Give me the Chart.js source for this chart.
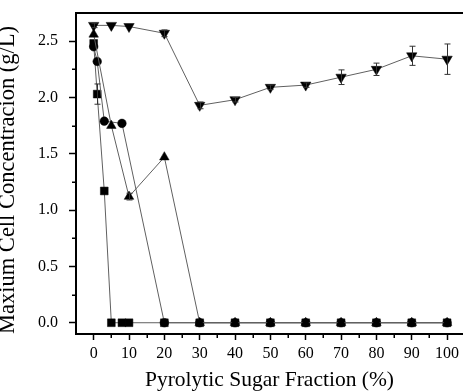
<!DOCTYPE html>
<html><head><meta charset="utf-8">
<script src="https://cdn.jsdelivr.net/npm/chart.js@4/dist/chart.umd.min.js"></script>
<style>html,body{margin:0;padding:0;background:#fff;}#wrap{width:463px;height:391px;position:relative;}</style>
</head><body><div id="wrap"><canvas id="c" width="463" height="391"></canvas></div>
<script>
// ---- data ----
const invTriX = [0, 5, 10, 20, 30, 40, 50, 60, 70, 80, 90, 100];
const invTriY = [2.64, 2.64, 2.63, 2.57, 1.93, 1.98, 2.09, 2.11, 2.18, 2.25, 2.37, 2.34];
const invTriErr = [0.02, 0, 0, 0.03, 0.03, 0.02, 0.02, 0.02, 0.065, 0.055, 0.085, 0.135];

const triX = [0, 5, 10, 20, 30, 40, 50, 60, 70, 80, 90, 100];
const triY = [2.56, 1.75, 1.12, 1.47, 0, 0, 0, 0, 0, 0, 0, 0];
const triErr = [0, 0, 0.03, 0, 0, 0, 0, 0, 0, 0, 0, 0];

const sqX = [0, 1, 3, 5, 8, 10, 20, 30, 40, 50, 60, 70, 80, 90, 100];
const sqY = [2.48, 2.03, 1.17, 0, 0, 0, 0, 0, 0, 0, 0, 0, 0, 0, 0];
const sqErr = [0, 0.09, 0, 0, 0, 0, 0, 0, 0, 0, 0, 0, 0, 0, 0];

const cirX = [0, 1, 3, 8, 20, 30, 40, 50, 60, 70, 80, 90, 100];
const cirY = [2.45, 2.32, 1.79, 1.77, 0, 0, 0, 0, 0, 0, 0, 0, 0];
const cirErr = [0, 0, 0, 0, 0, 0, 0, 0, 0, 0, 0, 0, 0];

const xTicks = [0, 10, 20, 30, 40, 50, 60, 70, 80, 90, 100];
const xMinorTicks = [5, 15, 25, 35, 45, 55, 65, 75, 85, 95];
const yTicks = [0, 0.5, 1.0, 1.5, 2.0, 2.5];
const yMinorTicks = [0.25, 0.75, 1.25, 1.75, 2.25];

const xTitle = 'Pyrolytic Sugar Fraction (%)';
const yTitle = 'Maxium Cell Concentracion (g/L)';

// ---- build ----
const FONT = '"Liberation Serif", "Times New Roman", serif';
const pts = (xs, ys) => xs.map((x, i) => ({x: x, y: ys[i]}));

function ds(xs, ys, errs, style, radius, rot) {
  return {
    data: pts(xs, ys),
    errors: errs,
    borderColor: '#606060',
    borderWidth: 1,
    backgroundColor: '#000',
    pointBackgroundColor: '#000',
    pointBorderColor: '#000',
    pointBorderWidth: 0.5,
    pointStyle: style,
    pointRadius: radius,
    pointRotation: rot || 0,
    pointHoverRadius: radius,
    tension: 0,
    fill: false
  };
}

const errorBars = {
  id: 'errorBars',
  afterDatasetsDraw(chart) {
    const ctx = chart.ctx, ys = chart.scales.y;
    ctx.save();
    ctx.strokeStyle = '#333';
    ctx.lineWidth = 1;
    chart.data.datasets.forEach((d, di) => {
      const meta = chart.getDatasetMeta(di);
      d.data.forEach((p, i) => {
        const e = d.errors[i];
        if (!e) return;
        const px = Math.round(meta.data[i].x) + 0.5;
        const y1 = ys.getPixelForValue(p.y + e), y2 = ys.getPixelForValue(p.y - e);
        ctx.beginPath();
        ctx.moveTo(px, y1); ctx.lineTo(px, y2);
        ctx.moveTo(px - 3, y1); ctx.lineTo(px + 3, y1);
        ctx.moveTo(px - 3, y2); ctx.lineTo(px + 3, y2);
        ctx.stroke();
      });
    });
    ctx.restore();
  }
};

const frame = {
  id: 'frame',
  afterDraw(chart) {
    const ctx = chart.ctx, a = chart.chartArea, xs = chart.scales.x, ys = chart.scales.y;
    ctx.save();
    ctx.strokeStyle = '#000';
    ctx.lineWidth = 2;
    ctx.beginPath();
    ctx.moveTo(a.left - 1, a.top); ctx.lineTo(a.right, a.top);
    ctx.stroke();
    ctx.lineWidth = 1.5;
    ctx.beginPath();
    xMinorTicks.forEach(v => {
      const px = Math.round(xs.getPixelForValue(v)) + 0.25;
      ctx.moveTo(px, a.bottom); ctx.lineTo(px, a.bottom + 4);
    });
    yMinorTicks.forEach(v => {
      const py = Math.round(ys.getPixelForValue(v)) + 0.25;
      ctx.moveTo(a.left, py); ctx.lineTo(a.left - 4, py);
    });
    ctx.stroke();
    ctx.restore();
  }
};

new Chart(document.getElementById('c'), {
  type: 'line',
  data: {
    datasets: [
      ds(invTriX, invTriY, invTriErr, 'triangle', 6, 180),
      ds(triX, triY, triErr, 'triangle', 5.5, 0),
      ds(cirX, cirY, cirErr, 'circle', 4.3, 0),
      ds(sqX, sqY, sqErr, 'rect', 5.5, 0)
    ]
  },
  options: {
    responsive: false,
    animation: false,
    devicePixelRatio: 1,
    layout: {autoPadding: false, padding: {top: 13, left: 0, right: 0, bottom: 0}},
    plugins: {legend: {display: false}, tooltip: {enabled: false}},
    scales: {
      x: {
        type: 'linear',
        min: -5, max: 104.5,
        afterBuildTicks: s => { s.ticks = xTicks.map(v => ({value: v})); },
        afterFit: s => { s.height = 57; s.paddingLeft = 0; s.paddingRight = 0; },
        ticks: {color: '#000', font: {family: FONT, size: 16}, padding: 4, maxRotation: 0, autoSkip: false},
        grid: {drawOnChartArea: false, drawTicks: true, tickLength: 6, tickColor: '#000', tickWidth: 1.5},
        border: {display: true, color: '#000', width: 2},
        title: {display: true, text: xTitle, color: '#000', font: {family: FONT, size: 21.5, lineHeight: 1}, padding: {top: 0, bottom: 0}}
      },
      y: {
        type: 'linear',
        min: -0.1, max: 2.75,
        afterBuildTicks: s => { s.ticks = yTicks.map(v => ({value: v})); },
        afterFit: s => { s.width = 76; s.paddingTop = 0; s.paddingBottom = 0; },
        ticks: {color: '#000', font: {family: FONT, size: 16}, padding: 11, callback: v => Number(v).toFixed(1)},
        grid: {drawOnChartArea: false, drawTicks: true, tickLength: 7, tickColor: '#000', tickWidth: 1.5},
        border: {display: true, color: '#000', width: 2},
        title: {display: true, text: yTitle, align: 'start', color: '#000', font: {family: FONT, size: 22.5, lineHeight: 0.7}, padding: {top: 0, bottom: 0}}
      }
    }
  },
  plugins: [errorBars, frame]
});
</script>
</body></html>
